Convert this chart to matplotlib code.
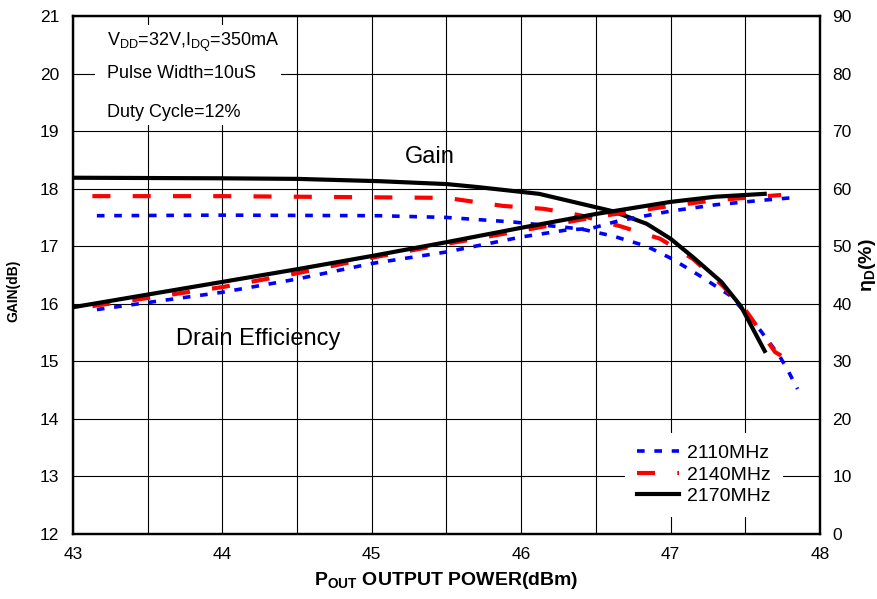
import matplotlib
matplotlib.use('Agg')
import matplotlib.pyplot as plt
from matplotlib.patches import Rectangle

plt.rcParams['font.family'] = ['Liberation Sans', 'DejaVu Sans']
plt.rcParams['mathtext.fontset'] = 'custom'
plt.rcParams['mathtext.rm'] = 'Liberation Sans'
plt.rcParams['mathtext.it'] = 'Liberation Sans:italic'
plt.rcParams['mathtext.bf'] = 'Liberation Sans:bold'
plt.rcParams['lines.scale_dashes'] = False

# gain curves (left axis, dB)
pout_g_2110 = [43.16, 44.0, 45.05, 45.5, 45.95, 46.4, 46.61, 46.84, 47.01, 47.2, 47.4, 47.58, 47.73, 47.79, 47.85]
gain_2110 = [17.53, 17.54, 17.53, 17.50, 17.42, 17.30, 17.18, 17.00, 16.78, 16.48, 16.14, 15.61, 15.09, 14.82, 14.52]

pout_g_2140 = [43.13, 44.0, 45.0, 45.5, 45.88, 46.15, 46.39, 46.66, 46.93, 47.15, 47.35, 47.51, 47.70, 47.74]
gain_2140 = [17.87, 17.87, 17.85, 17.84, 17.70, 17.65, 17.54, 17.35, 17.13, 16.78, 16.31, 15.86, 15.16, 15.10]

pout_g_2170 = [43.0, 44.0, 44.5, 45.05, 45.5, 45.7, 46.12, 46.61, 46.84, 47.0, 47.15, 47.34, 47.47, 47.63]
gain_2170 = [18.19, 18.18, 18.17, 18.13, 18.08, 18.03, 17.91, 17.61, 17.39, 17.13, 16.81, 16.38, 15.96, 15.18]

# drain efficiency curves (right axis, %)
pout_e_2110 = [43.16, 44.0, 44.5, 45.0, 45.5, 46.0, 46.3, 46.47, 46.65, 47.0, 47.3, 47.62, 47.85]
eff_2110 = [39.0, 42.0, 44.3, 47.0, 49.0, 51.6, 52.8, 53.1, 54.4, 56.1, 57.2, 58.0, 58.5]

pout_e_2140 = [43.13, 44.0, 44.5, 45.0, 45.5, 46.0, 46.5, 47.0, 47.3, 47.74]
eff_2140 = [39.6, 42.9, 45.3, 48.0, 50.4, 52.7, 55.1, 57.0, 58.0, 58.9]

pout_e_2170 = [43.0, 43.5, 44.0, 44.5, 45.0, 45.5, 46.0, 46.5, 47.0, 47.3, 47.63]
eff_2170 = [39.4, 41.6, 43.8, 46.0, 48.3, 50.7, 53.2, 55.6, 57.7, 58.6, 59.1]

labels = ['2110MHz', '2140MHz', '2170MHz']
colors = ['#0000ff', '#ff0000', '#000000']

fig = plt.figure(figsize=(8.78, 5.99), dpi=100)
ax = fig.add_axes([0.0831, 0.1085, 0.8508, 0.8648])
ax2 = ax.twinx()

ax.set_xlim(43, 48)
ax.set_ylim(12, 21)
ax2.set_ylim(0, 90)
ax.set_xticks([43, 44, 45, 46, 47, 48])
ax.set_xticks([43.5, 44.5, 45.5, 46.5, 47.5], minor=True)
ax.set_yticks(range(12, 22))
ax2.set_yticks(range(0, 91, 10))
ax.grid(True, which='both', color='black', lw=0.8)
ax.tick_params(which='both', length=0, labelsize=12.5)
ax.tick_params(axis='x', pad=9)
ax.tick_params(axis='y', pad=10)
ax2.tick_params(length=0, labelsize=12.5, pad=9)
for a in (ax, ax2):
    for s in a.spines.values():
        s.set_linewidth(1.6)

styles = [dict(lw=2.6, dashes=(5.5, 7.0)),
          dict(lw=3.0, dashes=(13.0, 16.0)),
          dict(lw=3.0)]

handles = []
for px, g, c, st, lab in zip([pout_g_2110, pout_g_2140, pout_g_2170],
                             [gain_2110, gain_2140, gain_2170], colors, styles, labels):
    h, = ax.plot(px, g, color=c, label=lab, **st)
    handles.append(h)
for px, e, c, st in zip([pout_e_2110, pout_e_2140, pout_e_2170],
                        [eff_2110, eff_2140, eff_2170], colors, styles):
    ax2.plot(px, e, color=c, **st)

# white block behind the test conditions
ax.add_patch(Rectangle((43.15, 19.11), 1.24, 1.73, facecolor='white',
                       edgecolor='none', zorder=2.5))
ax.text(43.23, 20.48, r'V$_{\mathregular{DD}}$=32V,I$_{\mathregular{DQ}}$=350mA',
        fontsize=13, zorder=3)
ax.text(43.23, 19.93, 'Pulse Width=10uS', fontsize=13, zorder=3)
ax.text(43.23, 19.25, 'Duty Cycle=12%', fontsize=13, zorder=3)

ax.text(45.39, 18.55, 'Gain', fontsize=17, ha='center', va='center', zorder=3)
ax.text(44.24, 15.38, 'Drain Efficiency', fontsize=17, ha='center', va='center', zorder=3)

ax.set_xlabel(r'P$_{\mathregular{OUT}}$ OUTPUT POWER(dBm)', fontsize=14,
              fontweight='bold')
ax.set_ylabel('GAIN(dB)', fontsize=10, fontweight='bold')
ax2.set_ylabel(r'$\mathregular{\eta}_{\mathbf{D}}$(%)', fontsize=14, fontweight='bold',
               rotation=90)
ax.xaxis.set_label_coords(0.5, -0.07)
ax.yaxis.set_label_coords(-0.07, 0.47)
ax2.yaxis.set_label_coords(1.05, 0.52)

leg = ax2.legend(handles=handles, loc='lower right', bbox_to_anchor=(0.95, 0.033),
                 borderaxespad=0, fontsize=14, frameon=True, facecolor='white',
                 edgecolor='none', framealpha=1, fancybox=False, handlelength=2.2,
                 handletextpad=0.4, labelspacing=0.2, borderpad=0.6)

fig.savefig('out.png', dpi=100)
